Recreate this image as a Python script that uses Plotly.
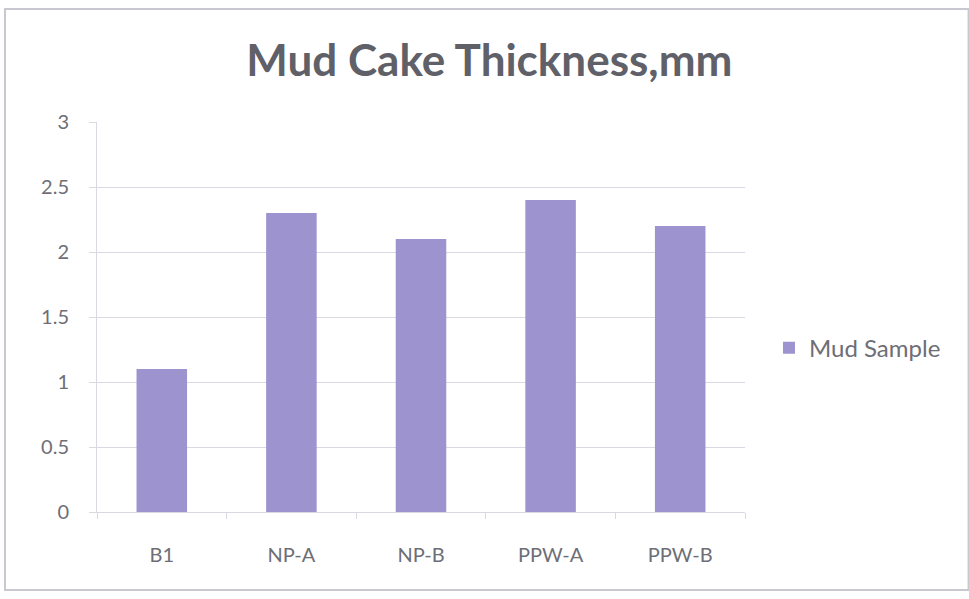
import plotly.graph_objects as go

categories = ["B1", "NP-A", "NP-B", "PPW-A", "PPW-B"]
values = [1.1, 2.3, 2.1, 2.4, 2.2]
series_name = "Mud Sample"
y_ticks = [0, 0.5, 1, 1.5, 2, 2.5, 3]

grid = "#d9d9e4"
txt = "#6e6e76"
font = "Lato, 'Open Sans', sans-serif"

fig = go.Figure()
fig.add_trace(go.Bar(x=categories, y=values, name=series_name,
                     marker=dict(color="#9d93cf", line=dict(width=0)),
                     width=0.39, showlegend=True))

fig.update_layout(
    width=969, height=599,
    margin=dict(l=97, r=224, t=122, b=87),
    paper_bgcolor="white", plot_bgcolor="white",
    title=dict(text="<b>Mud Cake Thickness,mm</b>", x=0.505, xanchor="center",
               y=0.898, yanchor="middle",
               font=dict(family=font, size=44, color="#606068")),
    font=dict(family=font, size=20, color=txt),
    showlegend=True,
    legend=dict(x=1.037, y=0.42, xanchor="left", yanchor="middle",
                font=dict(size=24, color=txt), bgcolor="rgba(0,0,0,0)",
                itemwidth=30),
)
fig.update_xaxes(showline=True, linecolor=grid, linewidth=1,
                 ticks="outside", tickson="boundaries", ticklen=6, tickcolor=grid,
                 showgrid=False, tickfont=dict(size=20, color=txt),
                 ticklabelstandoff=25)
fig.update_yaxes(range=[0, 3], tickvals=y_ticks, ticktext=[str(v) for v in y_ticks],
                 showline=True, linecolor=grid, linewidth=1,
                 ticks="outside", ticklen=7, tickcolor=grid,
                 showgrid=True, gridcolor=grid, gridwidth=1,
                 zeroline=False, tickfont=dict(size=20, color=txt),
                 ticklabelstandoff=16)

fig.add_shape(type="rect", xref="paper", yref="paper", x0=-0.142, x1=1.345, y0=-0.2, y1=1.29,
              line=dict(color="#c8c8d0", width=2), fillcolor="rgba(0,0,0,0)", layer="below")

fig.write_html("out.html")
